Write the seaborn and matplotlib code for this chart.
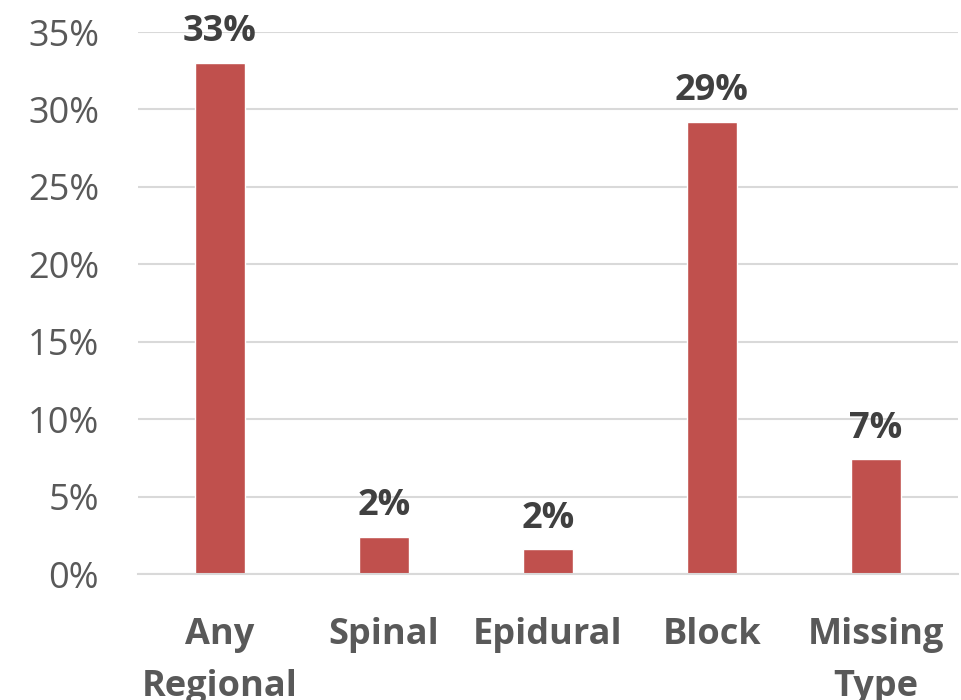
import pandas as pd
import numpy as np
import matplotlib.pyplot as plt
import seaborn as sns

# data (percent)
categories = ["Any\nRegional", "Spinal", "Epidural", "Block", "Missing\nType"]
values = [33.0, 2.4, 1.6, 29.2, 7.4]
yticks = [0, 5, 10, 15, 20, 25, 30, 35]
ytick_labels = [f"{t}%" for t in yticks]

df = pd.DataFrame({"type": categories, "pct": values})

sns.set_style("white")
plt.rcParams['font.family'] = ['Open Sans', 'DejaVu Sans']

fig = plt.figure(figsize=(9.62, 7.0), dpi=100)
ax = fig.add_axes([138/962, 1 - 574/700, (958-138)/962, (574-32)/700])

sns.barplot(data=df, x="type", y="pct", order=categories, color="#C0504D",
            width=0.31, saturation=1, ax=ax)

ax.set_ylim(0, 35)
ax.set_yticks(yticks)
ax.set_yticklabels(ytick_labels, fontsize=26, color="#595959")
ax.tick_params(axis="y", length=0, pad=28)
ax.tick_params(axis="x", length=0, pad=31)
for lab in ax.get_xticklabels():
    lab.set_fontsize(26)
    lab.set_fontweight("bold")
    lab.set_color("#595959")
    lab.set_linespacing(1.58)

ax.yaxis.grid(True, color="#D9D9D9", linewidth=1.5)
ax.set_axisbelow(True)
for s in ["top", "right", "left"]:
    ax.spines[s].set_visible(False)
ax.spines["bottom"].set_color("#D9D9D9")
ax.spines["bottom"].set_linewidth(1.5)
ax.set_xlabel("")
ax.set_ylabel("")

ax.bar_label(ax.containers[0], labels=[f"{v:.0f}%" for v in values],
             padding=9, fontsize=26, fontweight="bold", color="#404040",
             clip_on=False)

plt.savefig("out.png", dpi=100)
